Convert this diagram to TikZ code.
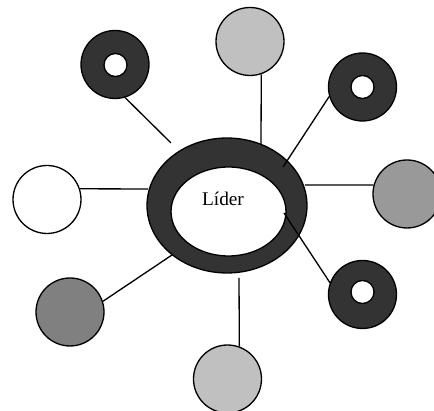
\documentclass[tikz,border=0pt]{standalone}
\usepackage{fontspec}
\setmainfont{Liberation Serif}
\usetikzlibrary{shapes.geometric}
\definecolor{ringdark}{RGB}{51,51,51}
\definecolor{lightgrey}{RGB}{192,192,192}
\definecolor{midgrey}{RGB}{153,153,153}
\definecolor{deepgrey}{RGB}{128,128,128}
\tikzset{
 member/.style={
 circle,
 draw=black,
 line width=0.75pt,
 minimum size=1.36cm,
 inner sep=0pt
 },
 donut/.style={member, fill=ringdark},
 hole/.style={
 circle,
 draw=black,
 fill=white,
 line width=0.75pt,
 minimum size=0.46cm,
 inner sep=0pt
 },
 spoke/.style={line width=0.75pt, draw=black}
}

\begin{document}
\begin{tikzpicture}[x=0.02cm, y=-0.02cm]
	\useasboundingbox (0,0) rectangle (434,411);

	% leader in the middle
	\node[ellipse, draw=black, line width=0.75pt, fill=ringdark, minimum width=3.2cm, minimum height=2.7cm, inner sep=0pt] (outer) at (227,205.5) {};
	\node[ellipse, draw=black, line width=0.75pt, fill=white, minimum width=2.3cm, minimum height=1.78cm, inner sep=0pt] (inner) at (228.5,211.5) {};
	\node[anchor=base, font=\fontsize{11}{13}\selectfont, inner sep=0pt] (lider) at (223,206) {Líder};

	% members around
	\node[donut] (ul) at (115,64.5) {};
	\node[hole] (ulhole) at (115.5,65) {};
	\node[member, fill=lightgrey] (top) at (250,41.5) {};
	\node[donut] (ur) at (362.5,87) {};
	\node[hole] (urhole) at (362.5,87) {};
	\node[member, fill=midgrey] (rt) at (407,194) {};
	\node[donut] (lr) at (362.5,294.5) {};
	\node[hole] (lrhole) at (362.5,292) {};
	\node[member, fill=lightgrey] (bt) at (227.5,379) {};
	\node[member, fill=deepgrey] (ll) at (70,312) {};
	\node[member, fill=white] (lf) at (47,199.5) {};

	\coordinate (ulend) at (171,143);
	\coordinate (topend) at (261,144);
	\coordinate (urend) at (283,167);
	\coordinate (rtend) at (305,185);
	\coordinate (lrend) at (284,213);
	\coordinate (btend) at (239,278);
	\coordinate (llend) at (172,255);
	\coordinate (lfend) at (148,189);

	\draw[spoke] (ul.-73) -- (ulend);
	\draw[spoke] (top.-71) -- (topend);
	\draw[spoke] (ur.196) -- (urend);
	\draw[spoke] (rt.165) -- (rtend);
	\draw[spoke] (lr.160) -- (lrend);
	\draw[spoke] (bt.70) -- (btend);
	\draw[spoke] (ll.18) -- (llend);
	\draw[spoke] (lf.18) -- (lfend);
\end{tikzpicture}
\end{document}
